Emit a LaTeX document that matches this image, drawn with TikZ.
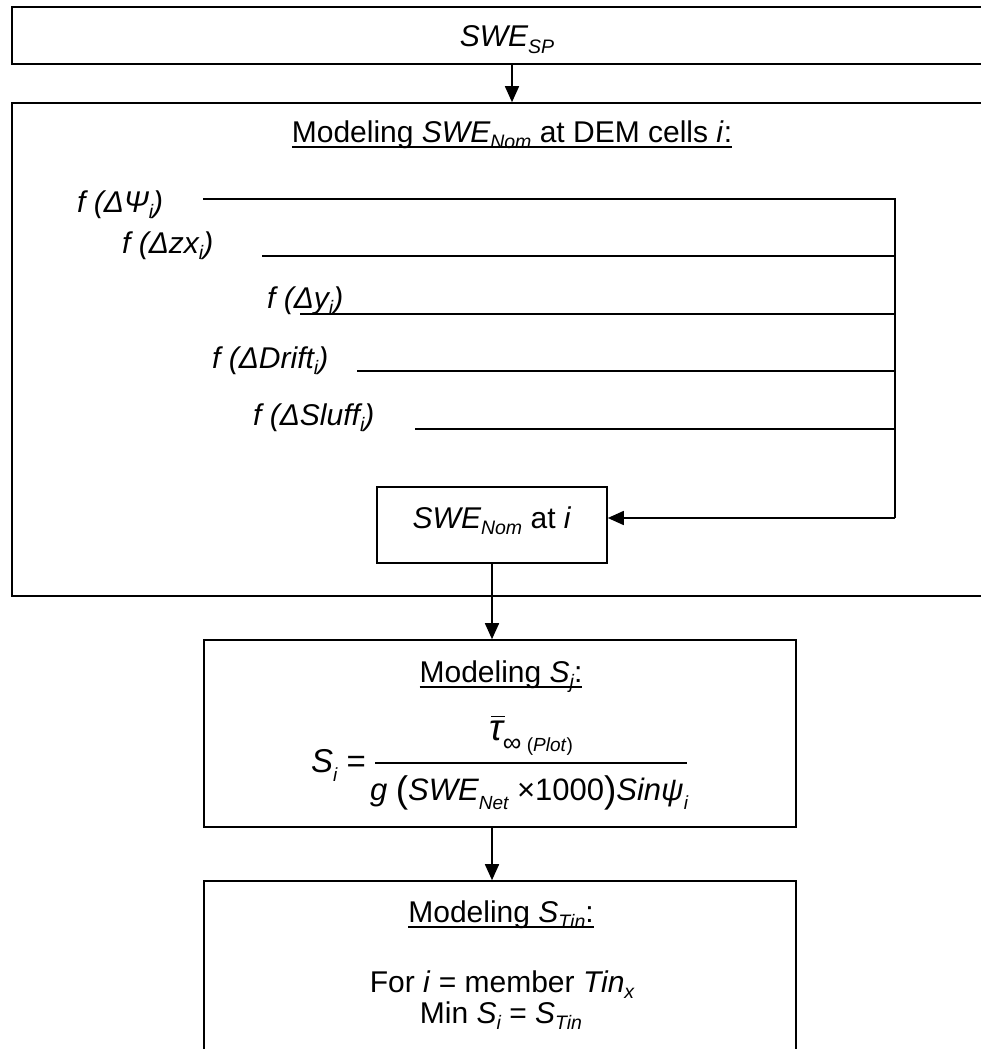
\documentclass[tikz,border=0pt]{standalone}
\usepackage{fontspec}
\setmainfont{Liberation Sans}
\usetikzlibrary{arrows.meta}
\newcommand{\mysub}[1]{\raisebox{-0.22em}{\fontsize{19.5}{20}\selectfont #1}}
\newcommand{\myul}[1]{\setbox0\hbox{#1}\rlap{\rule[-6pt]{\wd0}{1.8pt}}\box0}
\newcommand{\myol}[1]{\setbox2\hbox{#1}\rlap{\hspace{2pt}\raisebox{\dimexpr\ht2+3pt\relax}{\rule{\wd2}{1.6pt}}}\box2}
\tikzset{
  box/.style={draw, line width=1.6pt, inner sep=0pt},
  bigfont/.style={font=\fontsize{30}{34}\selectfont},
  txt/.style={inner sep=0pt, anchor=base west, bigfont},
  ctxt/.style={inner sep=0pt, anchor=base, bigfont},
  link/.style={line width=1.6pt},
  arr/.style={line width=1.6pt, -{Triangle[length=16pt,width=14pt]}},
}
\begin{document}
\begin{tikzpicture}[x=1pt,y=-1pt]
\useasboundingbox (0,0) rectangle (981,1049);
\fill[white] (0,0) rectangle (981,1049);
\clip (0,0) rectangle (981,1049);

% top box
\node[box, bigfont, minimum width=990pt, minimum height=57pt, text height=23pt, text depth=0pt] (sp) at (507,35.5) {\itshape SWE\mysub{SP}};

% big modeling box
\node[box, minimum width=1000pt, minimum height=493pt] (nom) at (512,349.5) {};
\node[ctxt] (nomtitle) at (512,142) {\myul{Modeling \textit{SWE\mysub{Nom}} at DEM cells \textit{i}:}};

\node[txt] (fpsi) at (77,212) {\itshape f (ΔΨ\mysub{i})};
\node[txt] (fzx) at (122,253) {\itshape f (Δzx\mysub{i})};
\node[txt] (fy) at (267,308) {\itshape f (Δy\mysub{i})};
\node[txt] (fdrift) at (212,368) {\itshape f (ΔDrift\mysub{i})};
\node[txt] (fsluff) at (253,425) {\itshape f (ΔSluff\mysub{i})};

\coordinate (c1) at (203,199);
\coordinate (c2) at (262,256);
\coordinate (c3) at (300,314);
\coordinate (c4) at (357,371);
\coordinate (c5) at (415,429);
\coordinate (join) at (895,518);

\node[box, bigfont, minimum width=230pt, minimum height=76pt, text height=22pt, text depth=16pt] (nomi) at (492,525) {\textit{SWE\mysub{Nom}} at \textit{i}};

\draw[link] (c1) -| (join);
\draw[link] (c2) -- (c2 -| join);
\draw[link] (c3) -- (c3 -| join);
\draw[link] (c4) -- (c4 -| join);
\draw[link] (c5) -- (c5 -| join);
\draw[arr] (join) -- (join -| nomi.east);

% S_i box
\node[box, minimum width=592pt, minimum height=187pt] (sbox) at (500,733.5) {};
\node[ctxt] (stitle) at (501,682) {\myul{Modeling \textit{S\mysub{j}}:}};
\node[anchor=base west, inner sep=0pt, font=\fontsize{33}{34}\selectfont] (slhs) at (311,772) {\textit{S}\raisebox{-0.3em}{\fontsize{19}{20}\selectfont\itshape i} =};
\node[anchor=base, inner sep=0pt] (num) at (531,740) {\fontsize{37}{37}\selectfont\itshape\myol{τ}\raisebox{-0.3em}{\fontsize{26}{26}\selectfont\upshape ∞\fontsize{19}{20}\selectfont\ (\textit{Plot})}};
\coordinate (barL) at (375,763);
\coordinate (barR) at (687,763);
\draw[line width=1.5pt] (barL) -- (barR);
\node[anchor=base, inner sep=0pt, font=\fontsize{31}{34}\selectfont] (den) at (529,800) {\itshape g \raisebox{-2pt}{\fontsize{37}{37}\selectfont\upshape(}SWE\raisebox{-0.3em}{\fontsize{19}{20}\selectfont Net} \upshape×1000\raisebox{-2pt}{\fontsize{37}{37}\selectfont)}\itshape Sinψ\raisebox{-0.3em}{\fontsize{19}{20}\selectfont i}};

% S_Tin box
\node[box, minimum width=592pt, minimum height=200pt] (tin) at (500,981) {};
\node[ctxt] (tintitle) at (501,922) {\myul{Modeling \textit{S\mysub{Tin}}:}};
\node[ctxt] (forline) at (502,992) {For \textit{i} = member \textit{Tin\mysub{x}}};
\node[ctxt] (minline) at (501,1023) {Min \textit{S\mysub{i}} = \textit{S\mysub{Tin}}};

% arrows
\draw[arr] (sp.south -| nomtitle) -- (nom.north -| nomtitle);
\draw[arr] (nomi.south) -- (sbox.north -| nomi.south);
\draw[arr] (sbox.south -| nomi.south) -- (tin.north -| nomi.south);
\end{tikzpicture}
\end{document}
